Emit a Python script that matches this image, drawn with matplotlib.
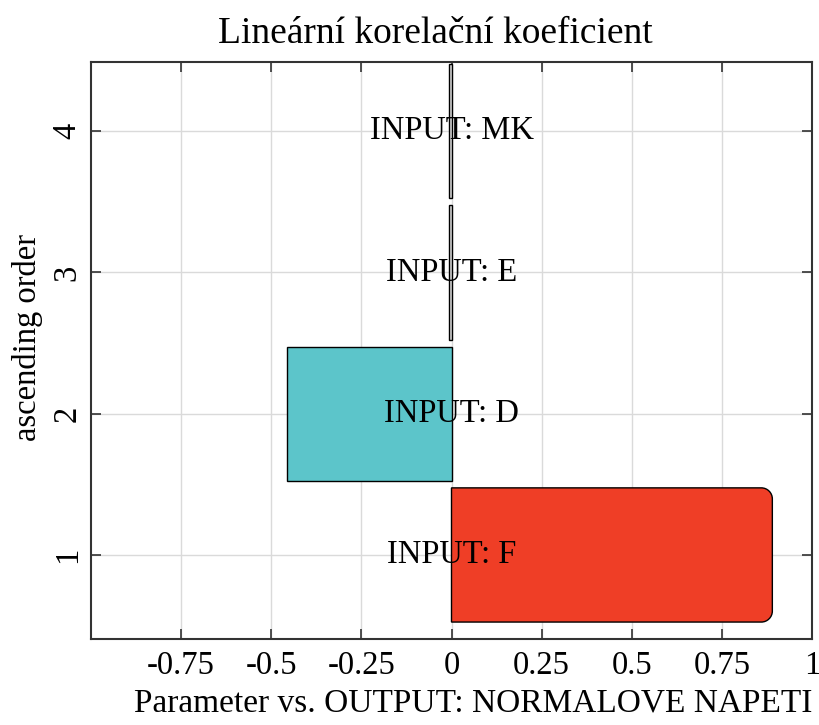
import matplotlib
matplotlib.use("Agg")
import matplotlib.pyplot as plt
from matplotlib.path import Path
from matplotlib.patches import PathPatch

plt.rcParams['font.family'] = ['Liberation Serif', 'DejaVu Serif']

# correlation of each input with the output, in ascending order
labels = ["INPUT: F", "INPUT: D", "INPUT: E", "INPUT: MK"]
positions = [1, 2, 3, 4]
values = [0.89, -0.457, -0.006, -0.006]
colors = ["#EF3E26", "#5CC5CA", "#D9D9D9", "#D9D9D9"]
xticks = [-0.75, -0.5, -0.25, 0, 0.25, 0.5, 0.75, 1]
xtick_labels = ["-0.75", "-0.5", "-0.25", "0", "0.25", "0.5", "0.75", "1"]

fig = plt.figure(figsize=(8.19, 7.25), dpi=100)
ax = fig.add_axes([91 / 819, 86 / 725, 721 / 819, 577 / 725])
ax.set_xlim(-1, 1)
ax.set_ylim(0.405, 4.49)

bars = ax.barh(positions, values, height=0.95, color=colors,
               edgecolor="black", linewidth=1.0, zorder=2)


def round_outer_end(bar, radius_px=11):
    """Replace a bar with a path whose far end has rounded corners."""
    x0, y0 = bar.get_x(), bar.get_y()
    w, h = bar.get_width(), bar.get_height()
    inv = ax.transData.inverted()
    p0 = inv.transform((0, 0))
    p1 = inv.transform((radius_px, radius_px))
    rx, ry = abs(p1[0] - p0[0]), abs(p1[1] - p0[1])
    x1 = x0 + w
    k = 0.55
    verts = [
        (x0, y0),
        (x1 - rx, y0),
        (x1 - rx + k * rx, y0), (x1, y0 + ry - k * ry), (x1, y0 + ry),
        (x1, y0 + h - ry),
        (x1, y0 + h - ry + k * ry), (x1 - rx + k * rx, y0 + h), (x1 - rx, y0 + h),
        (x0, y0 + h),
        (x0, y0),
    ]
    codes = [Path.MOVETO, Path.LINETO,
             Path.CURVE4, Path.CURVE4, Path.CURVE4,
             Path.LINETO,
             Path.CURVE4, Path.CURVE4, Path.CURVE4,
             Path.LINETO, Path.CLOSEPOLY]
    patch = PathPatch(Path(verts, codes), facecolor=bar.get_facecolor(),
                      edgecolor="black", linewidth=1.0, zorder=2)
    bar.set_visible(False)
    ax.add_patch(patch)


round_outer_end(bars[0])

for y, lab in zip(positions, labels):
    ax.text(0, y, lab, ha="center", va="center", fontsize=23.5, zorder=3)

ax.set_xticks(xticks)
ax.set_xticklabels(xtick_labels)
ax.set_yticks(positions)
ax.set_yticklabels([str(p) for p in positions], rotation=90, va="center")
ax.tick_params(axis="both", direction="in", length=7, width=1.2,
               labelsize=23.5, top=True, right=True, color="#333333")
ax.tick_params(axis="x", pad=8)
ax.tick_params(axis="y", pad=6)

ax.grid(True, color="#DADADA", linewidth=1.0, zorder=0)
ax.set_axisbelow(True)
for s in ax.spines.values():
    s.set_color("#333333")
    s.set_linewidth(1.5)

ax.set_xlabel("Parameter vs. OUTPUT: NORMALOVE NAPETI", fontsize=24)
ax.xaxis.set_label_coords(0.53, -0.085)
ax.set_ylabel("ascending order", fontsize=23.5)
ax.yaxis.set_label_coords(-0.066, 0.523)
ax.set_title("Lineární korelační koeficient", fontsize=27, x=0.478, pad=14)

fig.savefig("out.png", dpi=100)
